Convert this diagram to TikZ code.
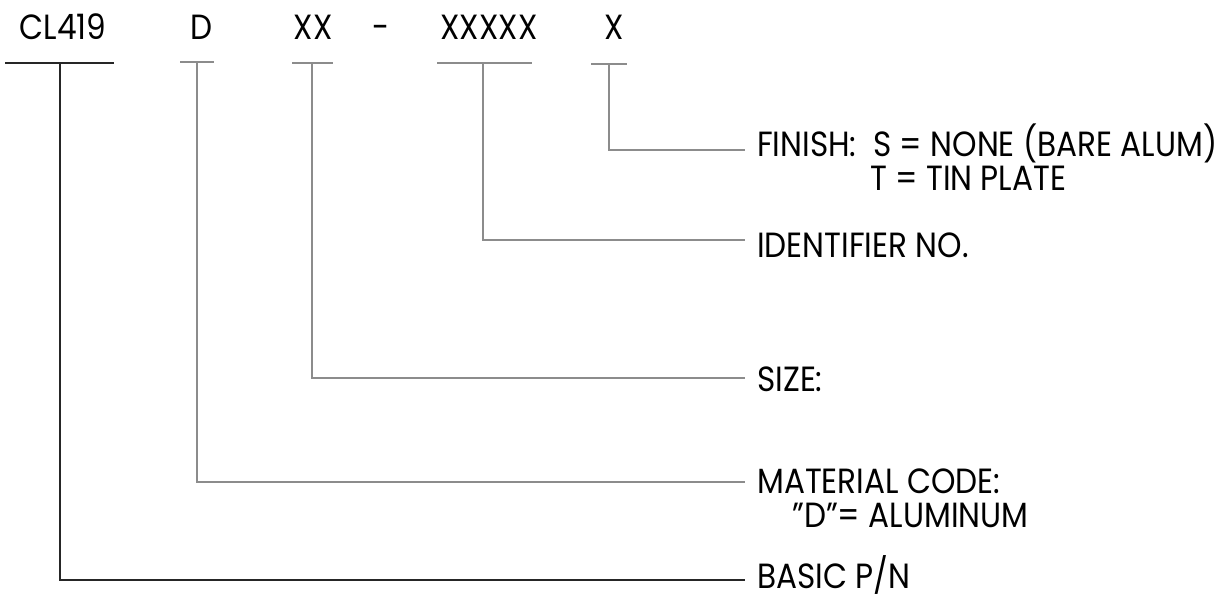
\documentclass[tikz,border=0pt]{standalone}
\usepackage{fontspec}
\setmainfont{Poppins}[FakeStretch=0.89]
\begin{document}
\begin{tikzpicture}[x=1pt,y=-1pt,
  lead/.style={draw=black!45, line width=1.2pt},
  leaddark/.style={draw=black!85, line width=1.4pt},
  code/.style={font=\fontsize{35}{36}\selectfont, inner sep=0pt, anchor=base},
  lbl/.style={font=\fontsize{35}{36}\selectfont, inner sep=0pt, anchor=base west}]
\useasboundingbox (0,0) rectangle (1219,599);
% part number fields
\node[code] (cl) at (63,40) {CL419};
\node[code] (d) at (202,40) {D};
\node[code] (xx) at (313,40) {XX};
\node[code] (dash) at (381,40) {-};
\node[code] (x5) at (489,40) {XXXXX};
\node[code] (x1) at (614,40) {X};
% underlines
\draw[leaddark] (5,63) -- (114,63);
\draw[lead] (180,62) -- (214,62);
\draw[lead] (292,63) -- (333,63);
\draw[lead] (437,63) -- (532,63);
\draw[lead] (591,64) -- (627,64);
% stem tops
\coordinate (sCL) at (60,63);
\coordinate (sD) at (197,62);
\coordinate (sXX) at (312,63);
\coordinate (sX5) at (483,63);
\coordinate (sX1) at (609,64);
% leader ends
\coordinate (eFin) at (745,150);
\coordinate (eId) at (745,240);
\coordinate (eSize) at (745,378);
\coordinate (eMat) at (745,482);
\coordinate (eBas) at (745,580);
% labels
\node[lbl] (fin) at (757,157) {FINISH:\ \ S = NONE (BARE ALUM)};
\node[lbl] (fin2) at (870,190) {T = TIN PLATE};
\node[lbl] (ident) at (757,257) {IDENTIFIER NO.};
\node[lbl] (size) at (757,391) {SIZE:};
\node[lbl] (mat) at (757,493) {MATERIAL CODE:};
\node[lbl] (mat2) at (792,527) {"D"= ALUMINUM};
\node[lbl] (bas) at (757,588) {BASIC P/N};
% connectors
\draw[lead] (sX1) |- (eFin);
\draw[lead] (sX5) |- (eId);
\draw[lead] (sXX) |- (eSize);
\draw[lead] (sD) |- (eMat);
\draw[leaddark] (sCL) |- (eBas);
\end{tikzpicture}
\end{document}
